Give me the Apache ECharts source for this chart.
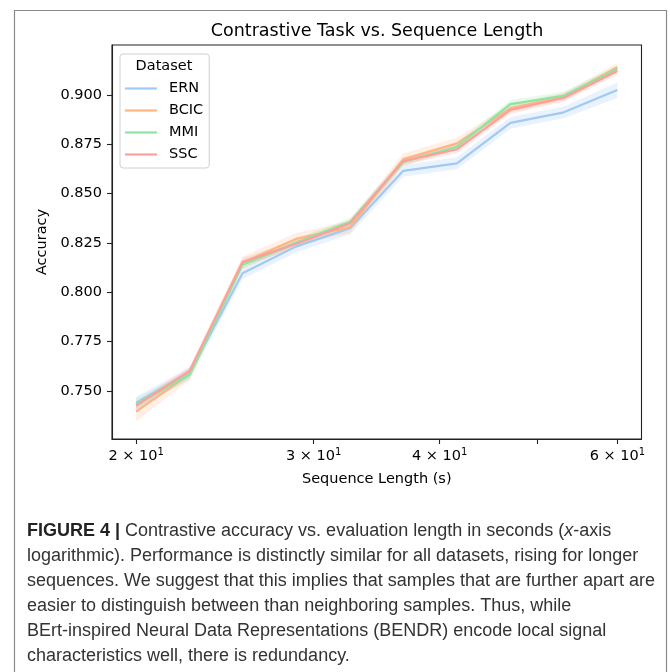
<!DOCTYPE html>
<html>
<head>
<meta charset="utf-8">
<script src="https://cdn.jsdelivr.net/npm/echarts@6/dist/echarts.min.js"></script>
<style>
html,body{margin:0;padding:0;background:#fff;}
#chart{width:670px;height:672px;}
</style>
</head>
<body>
<div id="chart"></div>
<script>
// ---- data ----
const seqLengths = [20, 22.6, 25.5, 28.8, 32.6, 36.8, 41.6, 47.0, 53.1, 60.0];
const datasetNames = ['ERN', 'BCIC', 'MMI', 'SSC'];
const ernAcc  = [0.7441, 0.7590, 0.8096, 0.8231, 0.8324, 0.8615, 0.8653, 0.8858, 0.8911, 0.9024];
const bcicAcc = [0.7396, 0.7585, 0.8150, 0.8270, 0.8329, 0.8673, 0.8754, 0.8931, 0.8990, 0.9139];
const mmiAcc  = [0.7433, 0.7582, 0.8140, 0.8250, 0.8357, 0.8660, 0.8737, 0.8953, 0.8995, 0.9130];
const sscAcc  = [0.7426, 0.7602, 0.8153, 0.8244, 0.8349, 0.8664, 0.8724, 0.8923, 0.8985, 0.9120];
const ernErr  = [0.003, 0.003, 0.003, 0.003, 0.003, 0.003, 0.003, 0.003, 0.003, 0.004];
const bcicErr = [0.005, 0.003, 0.003, 0.003, 0.003, 0.003, 0.003, 0.002, 0.002, 0.002];
const mmiErr  = [0.003, 0.002, 0.002, 0.002, 0.002, 0.002, 0.002, 0.002, 0.002, 0.002];
const sscErr  = [0.002, 0.002, 0.002, 0.002, 0.002, 0.002, 0.002, 0.002, 0.002, 0.002];
const yTicks = [0.750, 0.775, 0.800, 0.825, 0.850, 0.875, 0.900];
const xTicks = [20, 30, 40, 50, 60];
const xTickLabels = [20, 30, 40, 60];
const titleText = 'Contrastive Task vs. Sequence Length';
const xName = 'Sequence Length (s)';
const yName = 'Accuracy';
const legendTitle = 'Dataset';
const captionLines = [
  ['FIGURE 4 |', ' Contrastive accuracy vs. evaluation length in seconds (', 'x', '-axis'],
  ['', 'logarithmic). Performance is distinctly similar for all datasets, rising for longer'],
  ['', 'sequences. We suggest that this implies that samples that are further apart are'],
  ['', 'easier to distinguish between than neighboring samples. Thus, while'],
  ['', 'BErt-inspired Neural Data Representations (BENDR) encode local signal'],
  ['', 'characteristics well, there is redundancy.']
];

const accs = [ernAcc, bcicAcc, mmiAcc, sscAcc];
const errs = [ernErr, bcicErr, mmiErr, sscErr];
const colors = ['#a1c9f4', '#ffb482', '#8de5a1', '#ff9f9b'];
const bandColors = ['rgba(161,201,244,0.22)', 'rgba(255,180,130,0.22)', 'rgba(141,229,161,0.22)', 'rgba(255,159,155,0.22)'];

const FONT = 'DejaVu Sans';
const CAP_FONT = 'Liberation Sans';

const chart = echarts.init(document.getElementById('chart'), null, {renderer: 'canvas'});

const series = [];
datasetNames.forEach((name, k) => {
  series.push({
    type: 'custom',
    name: name + ' band',
    z: 1,
    silent: true,
    data: [[seqLengths[0], accs[k][0]]],
    renderItem: function (params, api) {
      const upper = seqLengths.map((x, i) => api.coord([x, accs[k][i] + errs[k][i]]));
      const lower = seqLengths.map((x, i) => api.coord([x, accs[k][i] - errs[k][i]])).reverse();
      return {type: 'polygon', shape: {points: upper.concat(lower)}, style: {fill: bandColors[k], stroke: null}};
    }
  });
});
datasetNames.forEach((name, k) => {
  series.push({
    type: 'line',
    name: name,
    z: 3,
    symbol: 'none',
    lineStyle: {color: colors[k], width: 2.2},
    itemStyle: {color: colors[k]},
    data: seqLengths.map((x, i) => [x, accs[k][i]])
  });
});

const graphics = [
  {type: 'rect', shape: {x: 14.5, y: 10.5, width: 652, height: 700}, style: {fill: null, stroke: '#8a8a8a', lineWidth: 1.2}, z: 0},
  {type: 'text', x: 377, y: 31, style: {text: titleText, font: '17.5px "' + FONT + '"', fill: '#000', align: 'center', verticalAlign: 'middle'}},
  {type: 'text', x: 164, y: 66, z: 10, style: {text: legendTitle, font: '14.5px "' + FONT + '"', fill: '#000', align: 'center', verticalAlign: 'middle'}}
];
const capY0 = 530.7, capStep = 25.1;
captionLines.forEach((parts, i) => {
  let rich = '';
  if (parts[0]) rich += '{b|' + parts[0] + '}';
  rich += '{r|' + parts[1] + '}';
  if (parts[2]) rich += '{i|' + parts[2] + '}{r|' + parts[3] + '}';
  graphics.push({
    type: 'text', x: 27, y: capY0 + i * capStep,
    style: {
      text: rich, verticalAlign: 'middle', align: 'left',
      rich: {
        b: {fontFamily: CAP_FONT, fontSize: 18, fontWeight: 'bold', fill: '#222'},
        r: {fontFamily: CAP_FONT, fontSize: 18, fill: '#333'},
        i: {fontFamily: CAP_FONT, fontSize: 18, fontStyle: 'italic', fill: '#333'}
      }
    }
  });
});

chart.setOption({
  animation: false,
  backgroundColor: '#fff',
  grid: {left: 112, right: 28.5, top: 45, bottom: 233, show: true, borderColor: '#222', borderWidth: 1.1, backgroundColor: 'transparent'},
  legend: {
    data: datasetNames,
    orient: 'vertical',
    left: 120, top: 54,
    padding: [27, 6, 6, 5],
    itemGap: 7,
    itemWidth: 32, itemHeight: 2.2,
    icon: 'rect',
    borderColor: '#d0d0d0', borderWidth: 1, borderRadius: 3,
    backgroundColor: 'rgba(255,255,255,0.85)',
    textStyle: {fontFamily: FONT, fontSize: 14.5, color: '#000', padding: [0, 0, 0, 7]},
    selectedMode: false
  },
  xAxis: {
    type: 'log', logBase: 10, min: 18.93, max: 63.4,
    name: xName, nameLocation: 'middle', nameGap: 33,
    nameTextStyle: {fontFamily: FONT, fontSize: 14.5, color: '#000'},
    axisLine: {show: true, onZero: false, lineStyle: {color: '#222', width: 1.1}},
    axisTick: {show: true, length: 5, lineStyle: {color: '#222', width: 1.1}, customValues: xTicks},
    axisLabel: {
      margin: 8, customValues: xTickLabels,
      formatter: v => '{m|' + Math.round(v / 10) + ' × 10}{s|1}',
      rich: {
        m: {fontFamily: FONT, fontSize: 14.5, color: '#000', lineHeight: 18},
        s: {fontFamily: FONT, fontSize: 10, color: '#000', lineHeight: 12, verticalAlign: 'top'}
      }
    },
    splitLine: {show: false}, minorTick: {show: false}
  },
  yAxis: {
    type: 'value', min: 0.7257, max: 0.9252,
    name: yName, nameLocation: 'middle', nameGap: 56, nameRotate: 90,
    nameTextStyle: {fontFamily: FONT, fontSize: 14.5, color: '#000'},
    axisLine: {show: true, onZero: false, lineStyle: {color: '#222', width: 1.1}},
    axisTick: {show: true, length: 5, lineStyle: {color: '#222', width: 1.1}, customValues: yTicks},
    axisLabel: {margin: 10, customValues: yTicks, formatter: v => v.toFixed(3), fontFamily: FONT, fontSize: 14.5, color: '#000'},
    splitLine: {show: false}
  },
  graphic: graphics,
  series: series
});
</script>
</body>
</html>
